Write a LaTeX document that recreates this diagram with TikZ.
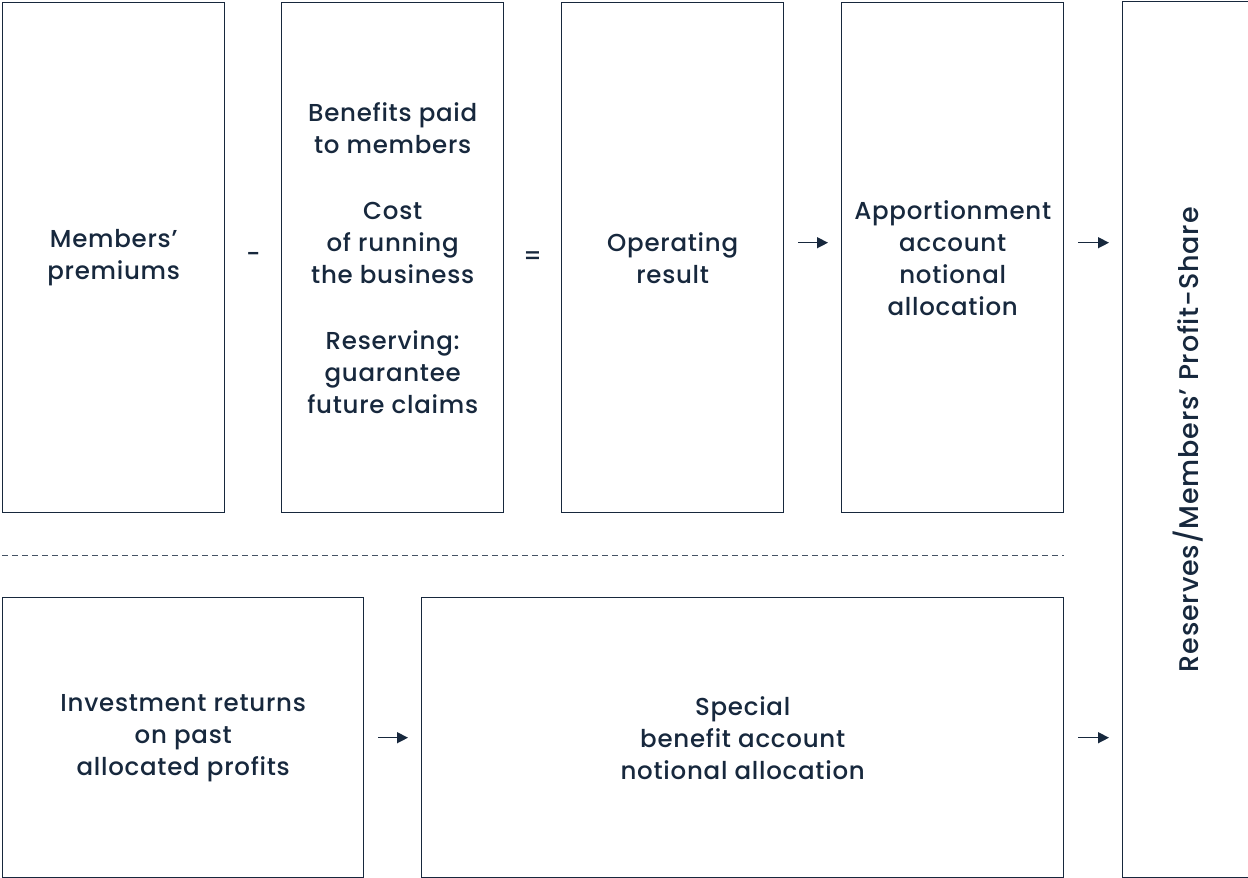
\documentclass[tikz,border=0pt]{standalone}
\usepackage{fontspec}
\setmainfont{Poppins}[UprightFont=* Medium,LetterSpace=3]
\usetikzlibrary{arrows.meta,positioning,calc}
\definecolor{navy}{HTML}{17283D}
\tikzset{
  box/.style={draw=navy,line width=1.4pt,anchor=north west,inner sep=0pt,
    text=navy,align=center,font=\fontsize{24.5}{32}\selectfont},
  sign/.style={text=navy,font=\fontsize{24.5}{32}\selectfont},
  arr/.style={navy,line width=1.4pt,-{Triangle[length=11pt,width=11pt]}}
}
\begin{document}
\begin{tikzpicture}[x=1pt,y=-1pt]
		\useasboundingbox (0,0) rectangle (1248,878);
		% top row
		\node[box,minimum width=222pt,minimum height=510pt] (prem) at (2,2) {Members'\\premiums};
		\node[box,minimum width=222pt,minimum height=510pt] (cost) at (281,2) {Benefits paid\\to members\\[34pt]Cost\\of running\\the business\\[34pt]Reserving:\\guarantee\\future claims};
		\node[box,minimum width=222pt,minimum height=510pt] (op) at (561,2) {Operating\\result};
		\node[box,minimum width=222pt,minimum height=510pt] (app) at (841,2) {Apportionment\\account\\notional\\allocation};
		% bottom row
		\node[box,minimum width=361pt,minimum height=280pt] (inv) at (2,597) {Investment returns\\on past\\allocated profits};
		\node[box,minimum width=642pt,minimum height=280pt] (spec) at (421,597) {Special\\benefit account\\notional allocation};
		% reserves
		\node[box,minimum width=130pt,minimum height=876pt] (res) at (1122,1) {};
		\node[sign,rotate=90,font=\fontsize{27}{32}\selectfont] (restext) at (res.center) {Reserves/Members' Profit-Share};
		% signs
		\node[sign] (minus) at ($(prem.east)!0.5!(cost.west)$) {-};
		\node[sign] (equal) at ($(cost.east)!0.5!(op.west)$) {=};
		% dashed separator
		\draw[navy!80,line width=1pt,dash pattern=on 6pt off 4pt] (prem.south west |- 0,555) -- (app.south east |- 0,555);
		% arrows
		\draw[arr,shorten <=14pt,shorten >=13pt] ([yshift=15pt]op.east) -- ([yshift=15pt]app.west);
		\draw[arr,shorten <=14pt,shorten >=13pt] ([yshift=15pt]app.east) -- ([yshift=15pt]app.east -| res.west);
		\draw[arr,shorten <=14pt,shorten >=13pt] (inv.east) -- (spec.west);
		\draw[arr,shorten <=14pt,shorten >=13pt] (spec.east) -- (spec.east -| res.west);
	\end{tikzpicture}
\end{document}
